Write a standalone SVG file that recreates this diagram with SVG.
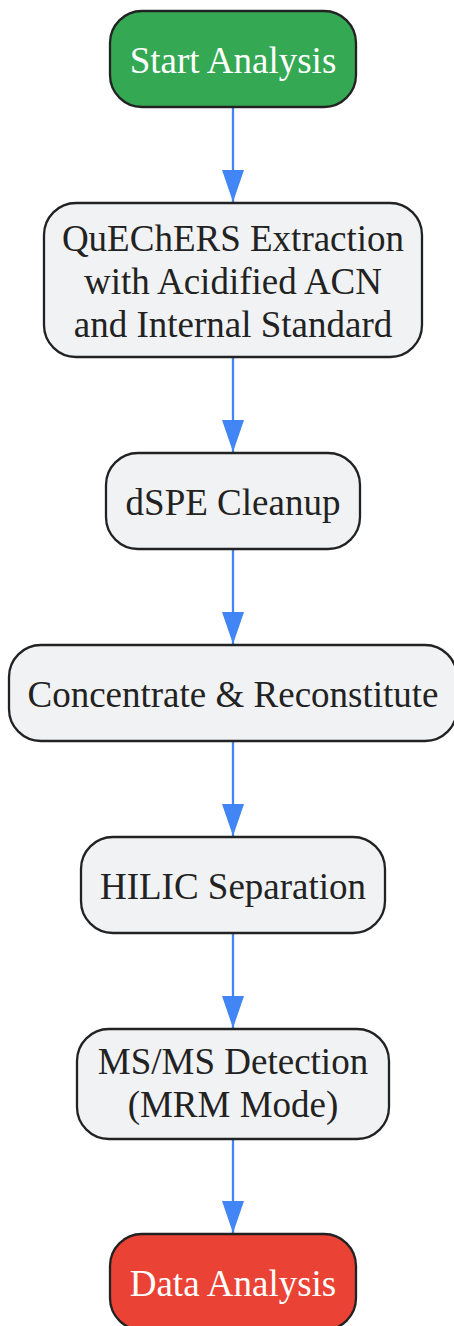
<svg xmlns="http://www.w3.org/2000/svg" width="454" height="1326" viewBox="0 0 454 1326">
<style>
.box{fill:#f1f2f4;stroke:#222;stroke-width:2.3}
.start{fill:#34a853;stroke:#222;stroke-width:2.3}
.end{fill:#ea4335;stroke:#222;stroke-width:2.3}
text{font-family:"Liberation Serif","Times New Roman",serif;font-size:37px;text-anchor:middle;fill:#222}
.light{fill:#fff}
.edge{stroke:#4285f4;stroke-width:2.3;fill:none;marker-end:url(#arr)}
</style>
<defs>
<marker id="arr" markerUnits="userSpaceOnUse" markerWidth="32" markerHeight="22" refX="32" refY="11" orient="auto">
<path d="M0,0 L32,11 L0,22 z" fill="#4285f4"/>
</marker>
</defs>
<rect width="454" height="1326" fill="#fff"/>
<g id="connectors">
<line class="edge" x1="233" y1="107" x2="233" y2="202"/>
<line class="edge" x1="233" y1="357" x2="233" y2="452"/>
<line class="edge" x1="233" y1="549" x2="233" y2="644"/>
<line class="edge" x1="233" y1="741" x2="233" y2="836"/>
<line class="edge" x1="233" y1="933" x2="233" y2="1028"/>
<line class="edge" x1="233" y1="1139" x2="233" y2="1233"/>
</g>
<g id="start">
<rect class="start" x="110" y="11" width="246" height="96" rx="32"/>
<text class="light" x="233" y="73">Start Analysis</text>
</g>
<g id="quechers">
<rect class="box" x="44" y="203" width="378" height="154" rx="32"/>
<text x="233" y="251">QuEChERS Extraction</text>
<text x="233" y="294">with Acidified ACN</text>
<text x="233" y="337">and Internal Standard</text>
</g>
<g id="dspe">
<rect class="box" x="106" y="453" width="254" height="96" rx="32"/>
<text x="233" y="515">dSPE Cleanup</text>
</g>
<g id="concentrate">
<rect class="box" x="9" y="645" width="448" height="96" rx="32"/>
<text x="233" y="707">Concentrate &amp; Reconstitute</text>
</g>
<g id="hilic">
<rect class="box" x="81" y="837" width="304" height="96" rx="32"/>
<text x="233" y="899">HILIC Separation</text>
</g>
<g id="msms">
<rect class="box" x="77" y="1029" width="312" height="110" rx="32"/>
<text x="233" y="1074">MS/MS Detection</text>
<text x="233" y="1117">(MRM Mode)</text>
</g>
<g id="data">
<rect class="end" x="110" y="1234" width="246" height="96" rx="32"/>
<text class="light" x="233" y="1296">Data Analysis</text>
</g>
</svg>
